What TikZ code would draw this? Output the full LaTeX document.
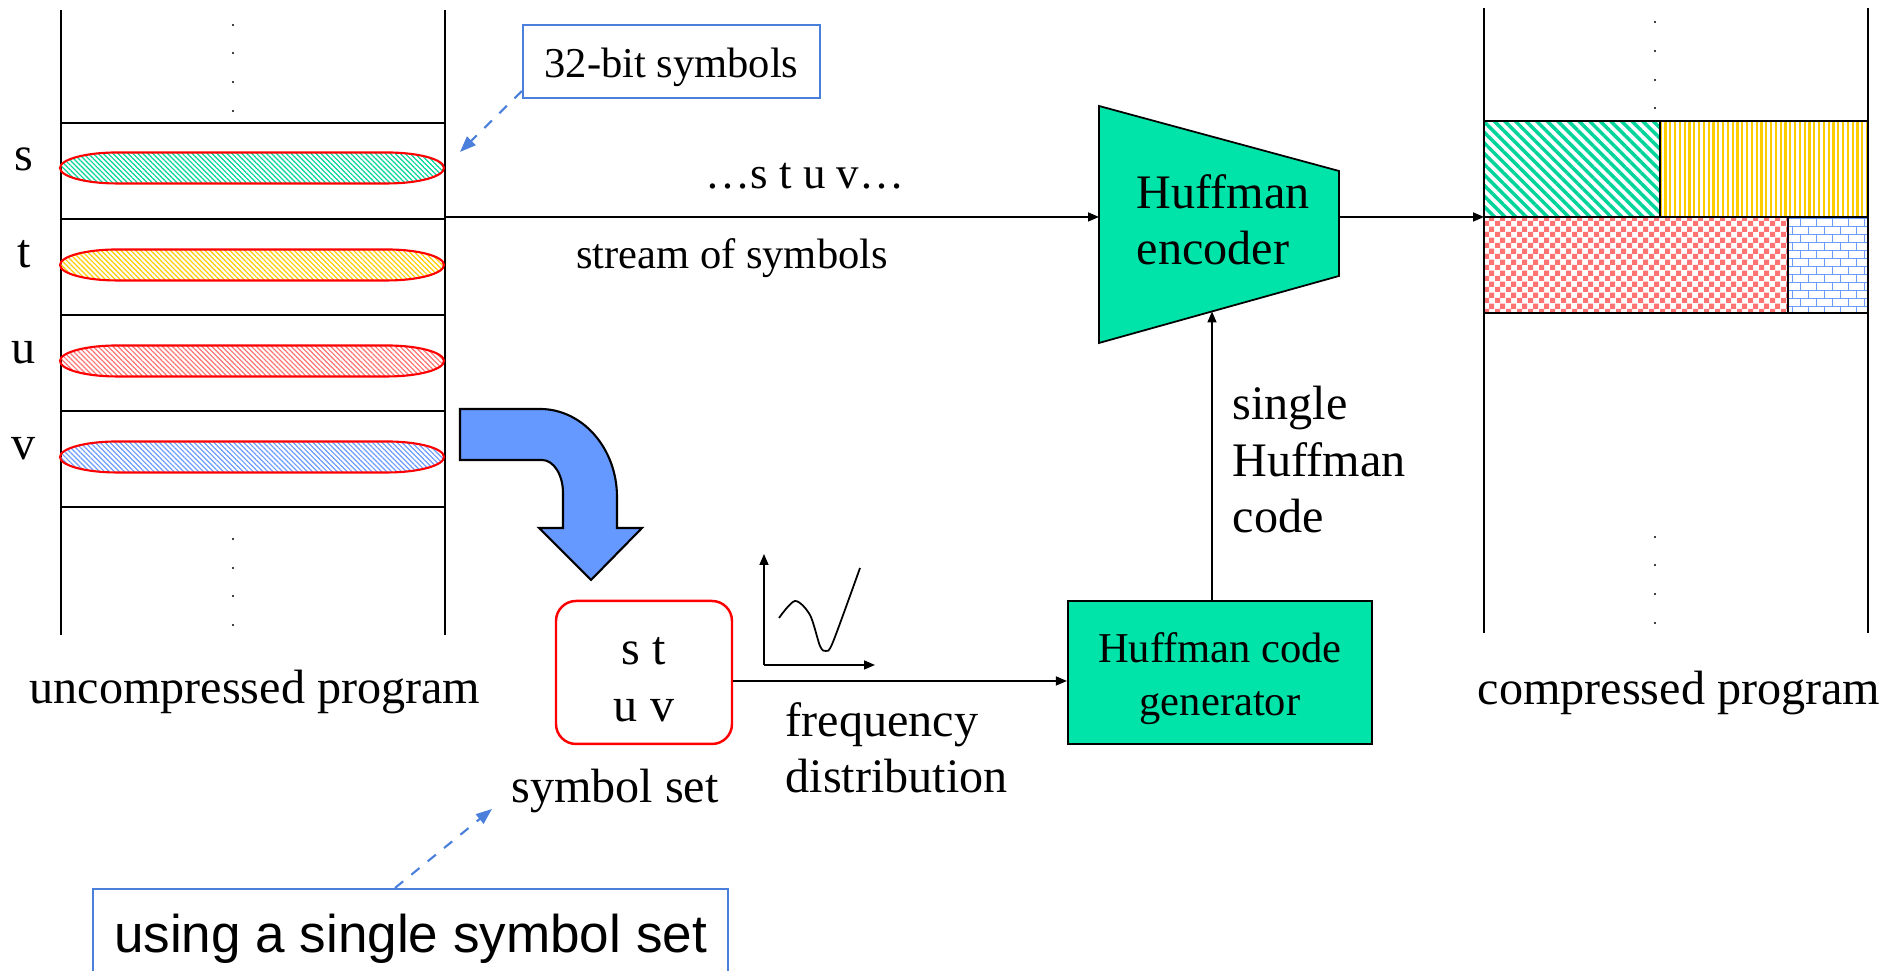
\documentclass[tikz,border=0pt]{standalone}
\usepackage{fontspec}
\setmainfont{Liberation Serif}
\newfontfamily\arialfont{Liberation Sans}
\usetikzlibrary{positioning,arrows.meta,calc,patterns.meta}

\definecolor{huffgreen}{HTML}{00E3A9}
\definecolor{hatchgreen}{HTML}{00D49A}
\definecolor{hatchyellow}{HTML}{FFCC00}
\definecolor{hatchred}{HTML}{FF7373}
\definecolor{hatchblue}{HTML}{6B9BFF}
\definecolor{arrowblue}{HTML}{6699FF}
\definecolor{noteblue}{HTML}{4A7FDC}

% checkerboard and bricks for the compressed blocks
\pgfdeclarepatternformonly{redcheck}{\pgfpointorigin}{\pgfpoint{1.06mm}{1.06mm}}{\pgfpoint{1.06mm}{1.06mm}}{%
  \pgfpathrectangle{\pgfpointorigin}{\pgfpoint{0.53mm}{0.53mm}}%
  \pgfpathrectangle{\pgfpoint{0.53mm}{0.53mm}}{\pgfpoint{0.53mm}{0.53mm}}%
  \pgfusepath{fill}}
\pgfdeclarepatternformonly{bluebricks}{\pgfpoint{-0.1mm}{-0.1mm}}{\pgfpoint{1.7mm}{1.7mm}}{\pgfpoint{1.6mm}{1.6mm}}{%
  \pgfsetlinewidth{0.1mm}%
  \pgfpathmoveto{\pgfpoint{0mm}{0mm}}\pgfpathlineto{\pgfpoint{1.6mm}{0mm}}%
  \pgfpathmoveto{\pgfpoint{0mm}{0.8mm}}\pgfpathlineto{\pgfpoint{1.6mm}{0.8mm}}%
  \pgfpathmoveto{\pgfpoint{0mm}{0mm}}\pgfpathlineto{\pgfpoint{0mm}{0.8mm}}%
  \pgfpathmoveto{\pgfpoint{0.8mm}{0.8mm}}\pgfpathlineto{\pgfpoint{0.8mm}{1.6mm}}%
  \pgfusepath{stroke}}

\tikzset{
  lbl/.style={font=\fontsize{13.7}{16.2}\selectfont, inner sep=0pt},
  sml/.style={font=\fontsize{12.1}{15.1}\selectfont, inner sep=0pt},
  col/.style={line width=0.45pt},
  flow/.style={-{Triangle[length=1.1mm,width=0.9mm]}, line width=0.45pt},
  note/.style={draw=noteblue, line width=0.6pt},
  callout/.style={noteblue, dashed, line width=0.6pt, -{Triangle[length=1.6mm,width=1.2mm]}},
}

\begin{document}
\begin{tikzpicture}
\useasboundingbox (0,0) rectangle (18.87,9.71);

% uncompressed program
\draw[col] (0.61,9.61) -- (0.61,3.36) (4.45,9.61) -- (4.45,3.36);
\foreach \y in {8.48,7.52,6.56,5.60,4.64} \draw[col] (0.61,\y) -- (4.45,\y);
\foreach \y in {9.46,9.18,8.89,8.60,4.32,4.03,3.75,3.46} \fill (2.33,\y) circle (0.012);
\foreach \y/\c/\s in {8.03/hatchgreen/s,7.06/hatchyellow/t,6.10/hatchred/u,5.14/hatchblue/v} {
  \draw[red, line width=0.6pt, pattern={Lines[angle=-45,distance=0.35mm,line width=0.12mm]}, pattern color=\c]
    (1.17,\y+0.155) -- (3.87,\y+0.155) arc (90:-90:0.57 and 0.155) -- (1.17,\y-0.155) arc (270:90:0.57 and 0.155) -- cycle;
  \node[lbl, anchor=base] (sym-\s) at (0.24,\y-0.03) {\s};
}
\node[lbl, anchor=base] (unc) at (2.55,2.67) {uncompressed program};

\node[note, sml, minimum width=2.97cm, minimum height=0.73cm, text height=0.41cm] (bits) at (6.715,9.095) {32-bit symbols};
\coordinate (bitstip) at (4.60,8.19);
\draw[callout] ($(bits.south west)+(0,0.08)$) -- (bitstip);

% stream into the encoder
\coordinate (src) at (4.45,7.54);
\draw[fill=huffgreen, line width=0.5pt] (10.99,8.65) -- (13.39,8.00) -- (13.39,6.95) -- (10.99,6.28) -- cycle;
\coordinate (encin) at (10.99,7.54);
\coordinate (encout) at (13.39,7.54);
\coordinate (encbot) at (12.12,6.595);
\node[lbl, align=left, anchor=base west] (enc) at (11.36,7.06) {Huffman\\encoder};
\draw[flow] (src) -- (encin);
\node[font=\fontsize{12.8}{15}\selectfont, inner sep=0pt, anchor=base] (stuv) at (8.05,7.82) {…s t u v…};
\node[sml, anchor=base] (stream) at (7.32,7.02) {stream of symbols};

% compressed program
\draw[col] (14.84,9.63) -- (14.84,3.38) (18.68,9.63) -- (18.68,3.38);
\draw[col] (14.84,8.50) -- (18.68,8.50);
\draw[col, pattern={Lines[angle=-45,distance=0.75mm,line width=0.35mm]}, pattern color=hatchgreen] (14.84,7.54) rectangle (16.60,8.50);
\draw[col, pattern={Lines[angle=90,distance=0.48mm,line width=0.22mm]}, pattern color=hatchyellow] (16.60,7.54) rectangle (18.68,8.50);
\draw[col, pattern=redcheck, pattern color=hatchred] (14.84,6.58) rectangle (17.88,7.54);
\draw[col, pattern=bluebricks, pattern color=hatchblue] (17.88,6.58) rectangle (18.68,7.54);
\foreach \y in {9.49,9.20,8.91,8.63,4.34,4.06,3.77,3.48} \fill (16.55,\y) circle (0.012);
\coordinate (dst) at (14.84,7.54);
\draw[flow] (encout) -- (dst);
\node[lbl, anchor=base] (cmp) at (16.79,2.66) {compressed program};

% symbol set and code generator
\draw[fill=arrowblue, line width=0.6pt] (4.60,5.62) -- (5.40,5.62) arc (90:0:0.77 and 0.88) -- (6.17,4.43) -- (6.42,4.43)
  -- (5.91,3.91) -- (5.39,4.43) -- (5.63,4.43) -- (5.63,4.78) arc (0:90:0.21 and 0.33) -- (4.60,5.11) -- cycle;
\node[lbl, draw=red, line width=0.7pt, rounded corners=2mm, align=center, minimum width=1.76cm, minimum height=1.43cm] (symset) at (6.44,2.985) {\rule{0pt}{4.1mm}s t\\u v};
\node[lbl, anchor=base] (setlbl) at (6.15,1.68) {symbol set};
\node[note, font=\arialfont\fontsize{15.1}{18}\selectfont, anchor=north, minimum width=6.35cm, inner ysep=0.25cm] (usage) at (4.105,0.83) {using a single symbol set};
\coordinate (settip) at (4.92,1.62);
\draw[callout] ($(usage.north)+(-0.155,0)$) -- (settip);

\draw[flow] (7.64,3.06) -- (7.64,4.17);
\draw[flow] (7.64,3.06) -- (8.75,3.06);
\draw[line width=0.5pt] plot[smooth] coordinates {(7.79,3.53) (7.95,3.70) (8.10,3.56) (8.20,3.25) (8.26,3.20) (8.33,3.29) (8.60,4.03)};
\node[lbl, align=left, anchor=base west] (freq) at (7.85,1.78) {frequency\\distribution};

\node[sml, draw, line width=0.6pt, fill=huffgreen, align=center, minimum width=3.04cm, minimum height=1.43cm] (gen) at (12.20,2.985) {\rule{0pt}{4.2mm}Huffman code\\generator};
\draw[flow] ([yshift=-0.85mm]symset.east) -- ([yshift=-0.85mm]gen.west);
\draw[flow] ([xshift=-0.8mm]gen.north) -- (encbot);
\node[lbl, align=left, anchor=base west] (single) at (12.32,4.38) {single\\Huffman\\code};
\end{tikzpicture}
\end{document}
